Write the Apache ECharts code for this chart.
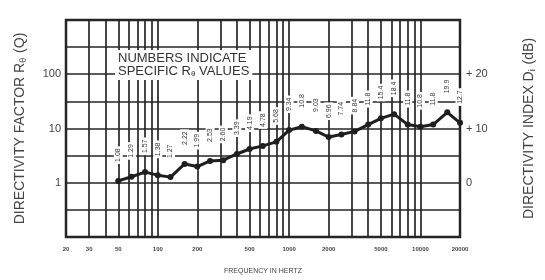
<!DOCTYPE html>
<html>
<head>
  <meta charset="utf-8" />
  <title>Directivity factor</title>
  <style>
    html, body { margin: 0; padding: 0; background: #ffffff; }
    #main { width: 545px; height: 280px; }
  </style>
  <script src="https://cdn.jsdelivr.net/npm/echarts@6/dist/echarts.min.js"></script>
</head>
<body>
  <div id="main"></div>
  <script type="text/javascript">
    // 1/3-octave band centres (Hz) and the R-theta values written on the chart
    var freqs = [50, 63, 80, 100, 125, 160, 200, 250, 315, 400, 500, 630, 800, 1000,
                 1250, 1600, 2000, 2500, 3150, 4000, 5000, 6300, 8000, 10000, 12500, 16000, 20000];
    var qValues = [1.08, 1.29, 1.57, 1.38, 1.27, 2.22, 1.99, 2.53, 2.60, 3.39, 4.19, 4.78, 5.68, 9.34,
                   10.8, 9.03, 6.96, 7.74, 8.84, 11.8, 15.4, 18.4, 11.8, 10.8, 11.8, 19.9, 12.7];

    // axis marks
    var xGridFreqs = [20, 30, 40, 50, 60, 70, 80, 90, 100, 200, 300, 400, 500, 600, 700, 800, 900,
                      1000, 2000, 3000, 4000, 5000, 6000, 7000, 8000, 9000, 10000, 20000];
    var xLabelFreqs = [20, 30, 50, 100, 200, 500, 1000, 2000, 5000, 10000, 20000];
    var yGridQ = [0.1, 0.3162, 1, 3.162, 10, 31.62, 100, 316.2, 1000];
    var yLabelQ = [1, 10, 100];
    var dbLabels = [0, 10, 20];

    var myChart = echarts.init(document.getElementById('main'), null, { renderer: 'canvas' });

    var points = freqs.map(function (f, i) { return [f, qValues[i]]; });
    var ink = '#262626';

    var option = {
      animation: false,
      backgroundColor: '#ffffff',
      textStyle: { fontFamily: 'Liberation Sans, Arial, sans-serif' },
      grid: {
        left: 66, right: 84, top: 20, bottom: 42,
        show: true, borderColor: ink, borderWidth: 2.5, backgroundColor: 'transparent'
      },
      xAxis: {
        type: 'log', logBase: 10, min: 20, max: 20000,
        name: 'FREQUENCY IN HERTZ', nameLocation: 'middle', nameGap: 31,
        nameTextStyle: { fontSize: 7, color: '#444' },
        axisLine: { show: false },
        axisTick: { show: false, customValues: xGridFreqs },
        axisLabel: {
          customValues: xLabelFreqs, fontSize: 6, fontWeight: 'bold', color: '#444', margin: 9,
          formatter: function (v) { return String(Math.round(v)); }
        },
        splitLine: { show: true, lineStyle: { color: ink, width: 1.7 } }
      },
      yAxis: [{
        type: 'log', logBase: 10, min: 0.1, max: 1000,
        name: 'DIRECTIVITY FACTOR R{s|θ} (Q)', nameLocation: 'middle', nameRotate: 90, nameGap: 38,
        nameTextStyle: {
          fontSize: 14, color: '#444',
          rich: { s: { fontSize: 9, color: '#444', verticalAlign: 'bottom', padding: [6, 1, 0, 0] } }
        },
        axisLine: { show: false },
        axisTick: { show: false, customValues: yGridQ },
        axisLabel: {
          customValues: yLabelQ, fontSize: 11, color: '#444', margin: 5,
          formatter: function (v) { return String(Math.round(v)); }
        },
        splitLine: { show: true, lineStyle: { color: ink, width: 1.7 } }
      }, {
        type: 'value', min: -10, max: 30, position: 'right',
        name: 'DIRECTIVITY INDEX D{s|i} (dB)', nameLocation: 'middle', nameRotate: 90, nameGap: 62,
        nameTextStyle: {
          fontSize: 14, color: '#444',
          rich: { s: { fontSize: 9, color: '#444', verticalAlign: 'bottom', padding: [6, 1, 0, 0] } }
        },
        axisLine: { show: false },
        axisTick: { show: false },
        axisLabel: {
          customValues: dbLabels, fontSize: 11, color: '#444', margin: 6,
          formatter: function (v) { return v > 0 ? '+ ' + v : String(v); }
        },
        splitLine: { show: false }
      }],
      graphic: [{
        type: 'text',
        left: 115, top: 50,
        z: 10,
        style: {
          text: 'NUMBERS INDICATE\nSPECIFIC R{s|θ} VALUES',
          fill: '#333', font: '13px Liberation Sans, Arial, sans-serif',
          align: 'center', lineHeight: 13,
          backgroundColor: '#ffffff', padding: [2, 3, 2, 3],
          rich: { s: { fontSize: 8, fill: '#333', padding: [4, 0, 0, 0] } }
        }
      }],
      series: [{
        type: 'line',
        data: points,
        yAxisIndex: 0,
        symbol: 'circle', symbolSize: 6,
        itemStyle: { color: '#1e1e1e' },
        lineStyle: { color: '#1e1e1e', width: 3 },
        z: 5,
        label: {
          show: true, position: 'top', distance: 14, rotate: 90,
          align: 'left', verticalAlign: 'middle',
          fontSize: 7, color: '#333', backgroundColor: '#ffffff', padding: [1, 2],
          formatter: function (p) { return qValues[p.dataIndex].toPrecision(3); }
        }
      }]
    };
    myChart.setOption(option);
  </script>
</body>
</html>
